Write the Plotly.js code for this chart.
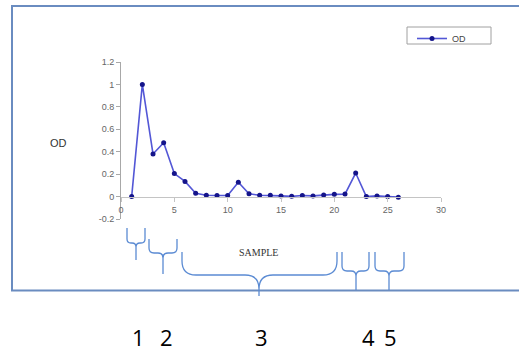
<!DOCTYPE html>
<html>
<head>
<meta charset="utf-8">
<script src="https://cdn.plot.ly/plotly-3.0.1.min.js"></script>
<style>html,body{margin:0;padding:0;background:#fff;}#chart{width:519px;height:353px;}</style>
</head>
<body>
<div id="chart"></div>
<script>
// Data
var sample = [1,2,3,4,5,6,7,8,9,10,11,12,13,14,15,16,17,18,19,20,21,22,23,24,25,26];
var od = [0,1.0,0.38,0.48,0.205,0.135,0.03,0.012,0.01,0.01,0.128,0.025,0.012,0.012,0.006,0.002,0.01,0.006,0.015,0.02,0.022,0.21,0.0,0.006,0.0,-0.005];
var xTicks = [0,5,10,15,20,25,30];
var yTicks = [-0.2,0,0.2,0.4,0.6,0.8,1,1.2];
var groupLabels = ['1','2','3','4','5'];

var W = 519, H = 353;
var L = 121, R = 78, T = 62, B = 134;
var pw = W - L - R, ph = H - T - B;
function px(x){ return (x - L) / pw; }
function py(y){ return (H - B - y) / ph; }

// brace geometry in pixels: [left, right, top, mid, tip, centre, radius]
var braces = [
  [127,145,228,243,260,136,4],
  [149,177,239,253,274,163,5],
  [182,337,252,275,296,259,14],
  [342,369,252,271,290,356,5],
  [375,404,252,271,290,389,5]
];
var labelX = [138,166,261,368,390];

function P(x,y){ return px(x).toFixed(5)+','+py(y).toFixed(5); }
function bracePath(b){
  var xl=b[0], xr=b[1], yt=b[2], ym=b[3], yb=b[4], xc=b[5], r=b[6];
  return 'M'+P(xl,yt)+' L'+P(xl,ym-r)+' Q'+P(xl,ym)+' '+P(xl+r,ym)+
    ' L'+P(xc-r,ym)+' Q'+P(xc,ym)+' '+P(xc,ym+r)+' L'+P(xc,yb)+
    ' M'+P(xc,ym+r)+' Q'+P(xc,ym)+' '+P(xc+r,ym)+' L'+P(xr-r,ym)+
    ' Q'+P(xr,ym)+' '+P(xr,ym-r)+' L'+P(xr,yt);
}

var shapes = [];
// outer frame
shapes.push({type:'rect', xref:'paper', yref:'paper', x0:px(12), x1:px(530), y0:py(290.5), y1:py(6),
  line:{color:'#6a8cc0', width:2}, fillcolor:'rgba(0,0,0,0)', layer:'below'});
// legend box
shapes.push({type:'rect', xref:'paper', yref:'paper', x0:px(407), x1:px(491), y0:py(44), y1:py(27),
  line:{color:'#a0a0a0', width:1}, fillcolor:'rgba(0,0,0,0)'});
braces.forEach(function(b){
  shapes.push({type:'path', xref:'paper', yref:'paper', path:bracePath(b),
    line:{color:'#5b8bd3', width:1.3}});
});

var annotations = [
  {xref:'paper', yref:'paper', x:px(58), y:py(143), xanchor:'center', yanchor:'middle', text:'OD', showarrow:false,
   font:{family:'Liberation Sans, Arial', size:11, color:'#333'}},
  {xref:'paper', yref:'paper', x:px(258), y:py(252), xanchor:'center', yanchor:'middle', text:'SAMPLE', showarrow:false,
   font:{family:'Liberation Serif, Times New Roman', size:10, color:'#333'}}
];
groupLabels.forEach(function(t,i){
  annotations.push({xref:'paper', yref:'paper', x:px(labelX[i]), y:py(337), xanchor:'center', yanchor:'middle',
    text:t, showarrow:false, borderpad:0, font:{family:'Open Sans, Noto Sans', size:22, color:'#000'}});
});

var trace = {
  x: sample, y: od, type:'scatter', mode:'lines+markers', name:'OD',
  line:{color:'#5357d6', width:1.6},
  marker:{color:'#14148a', size:5}
};

var layout = {
  width:W, height:H,
  margin:{l:L, r:R, t:T, b:B},
  paper_bgcolor:'#fff', plot_bgcolor:'rgba(0,0,0,0)',
  showlegend:true,
  legend:{x:px(412), y:py(24), xanchor:'left', yanchor:'top', bgcolor:'rgba(0,0,0,0)', borderwidth:0,
    font:{family:'Liberation Sans, Arial', size:9, color:'#444'}, itemwidth:30, tracegroupgap:0},
  xaxis:{range:[0,30], tickvals:xTicks, ticktext:xTicks.map(String), anchor:'free', position:0.2/1.4,
    showline:true, linecolor:'#c4c4c4', linewidth:1.5, ticks:'outside', ticklen:4, tickcolor:'#c4c4c4',
    showgrid:false, zeroline:false, tickfont:{family:'Liberation Sans, Arial', size:9, color:'#666'}},
  yaxis:{range:[-0.2,1.2], tickvals:yTicks, ticktext:yTicks.map(String),
    showline:true, linecolor:'#a8a8a8', linewidth:1, ticks:'outside', ticklen:4, tickcolor:'#a8a8a8',
    showgrid:false, zeroline:false, tickfont:{family:'Liberation Sans, Arial', size:9, color:'#666'}},
  shapes:shapes, annotations:annotations
};

Plotly.newPlot('chart', [trace], layout, {displayModeBar:false, staticPlot:true});
</script>
</body>
</html>
